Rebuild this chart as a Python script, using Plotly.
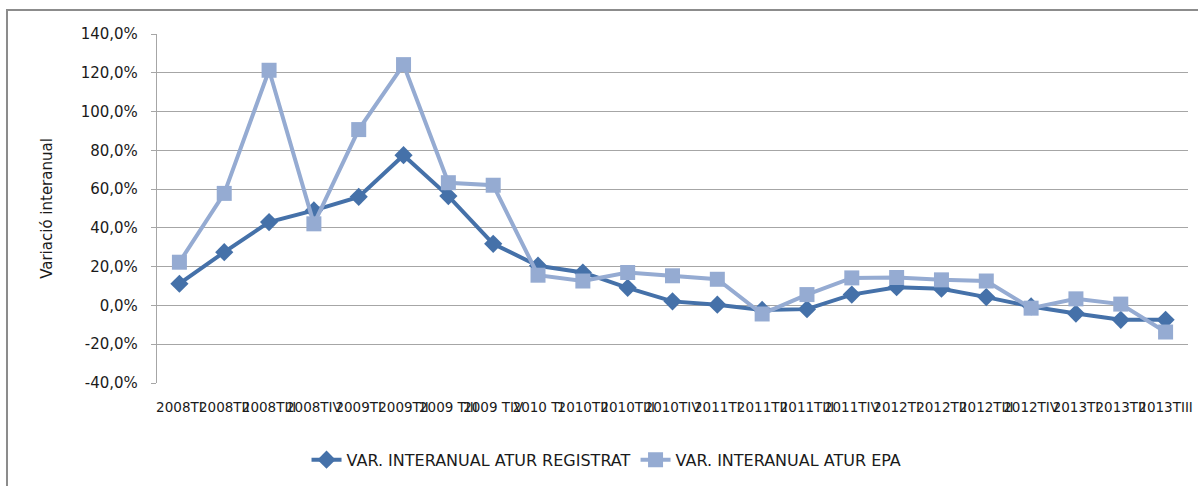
import plotly.graph_objects as go

categories = ["2008TI", "2008TII", "2008TIII", "2008TIV", "2009TI", "2009TII", "2009 TIII",
              "2009 TIV", "2010 TI", "2010TII", "2010TIII", "2010TIV", "2011TI", "2011TII",
              "2011TIII", "2011TIV", "2012TI", "2012TII", "2012TIII", "2012TIV", "2013TI",
              "2013TII", "2013TIII"]
atur_registrat = [11.2, 27.5, 43.0, 49.0, 56.0, 77.5, 56.4, 31.8, 20.5, 17.0, 9.1, 2.1, 0.4,
                  -2.3, -1.9, 5.6, 9.4, 8.6, 4.3, -0.5, -4.2, -7.4, -7.4]
atur_epa = [22.3, 57.8, 121.3, 42.1, 90.7, 124.2, 63.3, 62.0, 15.6, 12.6, 17.0, 15.3, 13.5,
            -4.4, 5.6, 14.2, 14.4, 13.2, 12.6, -1.4, 3.4, 0.7, -13.7]
y_ticks = [-40, -20, 0, 20, 40, 60, 80, 100, 120, 140]
y_ticktext = [f"{v:.1f}%".replace(".", ",") for v in y_ticks]

DARK = "#4571A9"
LIGHT = "#95ABD2"
FONT = "'DejaVu Sans', sans-serif"
TXT = "#1a1a1a"

fig = go.Figure()
fig.add_trace(go.Scatter(
    x=categories, y=atur_registrat, mode="lines+markers",
    name="VAR. INTERANUAL ATUR REGISTRAT",
    line=dict(color=DARK, width=4),
    marker=dict(symbol="diamond", size=14, color=DARK),
))
fig.add_trace(go.Scatter(
    x=categories, y=atur_epa, mode="lines+markers",
    name="VAR. INTERANUAL ATUR EPA",
    line=dict(color=LIGHT, width=4),
    marker=dict(symbol="square", size=15, color=LIGHT),
))

fig.update_layout(
    width=1198, height=486,
    margin=dict(l=157, r=10, t=34, b=103, autoexpand=False),
    paper_bgcolor="white", plot_bgcolor="white",
    font=dict(family=FONT, color=TXT, size=15),
    showlegend=True,
    legend=dict(orientation="h", x=0.436, xanchor="center", y=-0.22, yanchor="middle",
                font=dict(size=16, color=TXT), itemwidth=30,
                traceorder="normal"),
    shapes=[dict(type="rect", xref="paper", yref="paper",
                 x0=-0.1455, x1=1.2, y0=-0.5, y1=1.0688,
                 line=dict(color="#8c8c8c", width=2), layer="below")],
)
fig.update_xaxes(
    type="category", tickmode="array", tickvals=categories, ticktext=categories,
    tickangle=0, showgrid=False, showline=False, ticks="", automargin=False,
    ticklabelstandoff=14,
    tickfont=dict(size=13.5, color=TXT), range=[-0.5, len(categories) - 0.5],
)
fig.update_yaxes(
    range=[-40, 140], tickmode="array", tickvals=y_ticks, ticktext=y_ticktext,
    showgrid=True, gridcolor="#a6a6a6", gridwidth=1.3, zeroline=False,
    showline=True, linecolor="#a6a6a6", linewidth=1.3, automargin=False,
    ticks="outside", ticklen=5, tickcolor="#a6a6a6", ticklabelstandoff=10,
    tickfont=dict(size=15, color=TXT),
    title=dict(text="Variació interanual", font=dict(size=15, color=TXT), standoff=24),
)

fig.write_html("out.html", config={"displayModeBar": False},
               post_script="document.body.style.margin='0';")
